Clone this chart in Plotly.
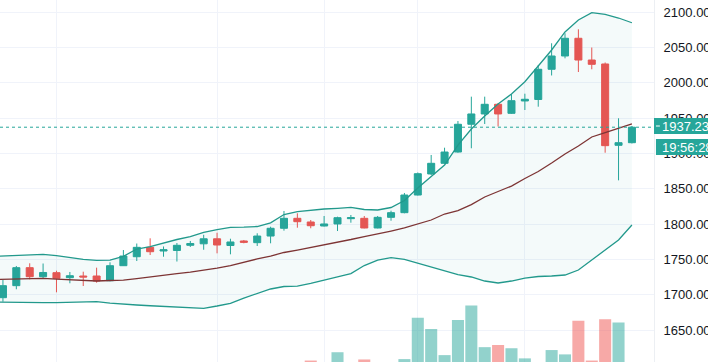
import plotly.graph_objects as go

# ---- data ----
idx = list(range(48))
open_ = [1695.8, 1712.8, 1738.3, 1725.5, 1731.2, 1724.1, 1726.5, 1726.5, 1719.8, 1741.1, 1753.8, 1767.1,
         1761.9, 1762.6, 1770.0, 1772.1, 1779.2, 1769.7, 1776.1, 1773.7, 1783.1, 1794.1, 1808.2, 1803.0,
         1797.3, 1800.2, 1807.7, 1808.2, 1794.5, 1809.6, 1816.2, 1841.2, 1871.0, 1886.1, 1902.1, 1941.4,
         1956.0, 1969.7, 1956.9, 1974.4, 1976.5, 2019.3, 2038.1, 2063.2, 2032.4, 2026.8, 1911.6, 1915.3]
high = [1720.8, 1740.7, 1744.5, 1744.2, 1734.0, 1732.2, 1732.6, 1738.3, 1745.9, 1763.3, 1772.5, 1779.9,
        1768.3, 1773.2, 1776.1, 1784.9, 1787.8, 1779.3, 1777.5, 1787.0, 1796.3, 1818.6, 1815.3, 1805.8,
        1811.5, 1810.5, 1812.9, 1811.5, 1811.5, 1819.0, 1844.1, 1873.1, 1897.9, 1908.2, 1946.0, 1980.5,
        1980.5, 1971.5, 1983.9, 1984.7, 2025.4, 2056.1, 2070.3, 2075.9, 2050.1, 2028.9, 1949.9, 1939.0]
low = [1690.1, 1707.7, 1721.8, 1723.7, 1703.4, 1716.2, 1712.3, 1717.0, 1719.0, 1740.7, 1747.7, 1756.2,
       1753.8, 1747.0, 1767.6, 1763.7, 1758.6, 1757.2, 1772.8, 1769.0, 1772.8, 1790.7, 1794.9, 1794.1,
       1796.6, 1790.2, 1802.0, 1794.0, 1794.0, 1804.8, 1815.3, 1840.5, 1869.5, 1885.1, 1901.1, 1907.4,
       1941.8, 1938.2, 1956.0, 1961.6, 1966.3, 2010.5, 2034.8, 2015.4, 2019.3, 1901.1, 1862.0, 1914.2]
close = [1712.8, 1738.3, 1725.5, 1731.5, 1723.2, 1726.9, 1725.1, 1719.4, 1741.1, 1754.8, 1767.1, 1760.9,
         1763.7, 1770.0, 1772.5, 1779.2, 1770.4, 1774.7, 1774.2, 1783.1, 1794.1, 1808.2, 1803.4, 1797.7,
         1800.2, 1809.1, 1809.1, 1794.5, 1809.6, 1816.2, 1841.2, 1871.4, 1886.1, 1902.1, 1941.4, 1956.0,
         1969.7, 1956.0, 1974.8, 1976.8, 2019.3, 2038.1, 2063.2, 2032.4, 2026.3, 1911.1, 1915.3, 1937.23]
volume = [8, 10, 7, 6, 8, 5, 6, 7, 9, 10, 9, 8, 6, 7, 5, 8, 9, 7, 5, 7, 8, 11, 9, 12.4,
          8, 14.7, 6, 12.7, 11, 10, 12.8, 24.2, 21.1, 13.9, 23.6, 27.6, 16.1, 16.7, 15.8, 13.0,
          10, 15.3, 14.1, 23.4, 12.4, 23.8, 22.9, 9]

band_idx = list(range(-1, 48))
bb_upper = [1754.1, 1754.8, 1755.8, 1756.9, 1757.2, 1755.5, 1752.4, 1750.1, 1748.7, 1749.1, 1754.4, 1764.7,
            1768.0, 1773.2, 1778.2, 1782.4, 1788.4, 1792.3, 1795.5, 1795.6, 1796.6, 1801.8, 1813.6, 1817.8,
            1820.0, 1821.4, 1822.4, 1823.8, 1820.7, 1820.0, 1823.5, 1833.4, 1851.1, 1868.1, 1883.7, 1912.0,
            1934.7, 1953.1, 1970.1, 1984.3, 2001.7, 2023.9, 2046.6, 2072.1, 2089.1, 2099.4, 2096.9, 2091.9,
            2085.2]
bb_basis = [1721.5, 1721.8, 1722.2, 1722.9, 1723.2, 1722.2, 1721.1, 1720.1, 1719.4, 1720.1, 1720.8, 1722.9,
            1725.5, 1727.9, 1730.0, 1732.1, 1734.5, 1737.8, 1741.3, 1746.3, 1750.6, 1754.8, 1759.8, 1763.3,
            1766.8, 1771.1, 1774.6, 1778.2, 1782.4, 1786.0, 1790.2, 1794.5, 1800.1, 1805.8, 1814.3, 1819.2,
            1827.7, 1838.4, 1846.2, 1853.9, 1864.6, 1874.5, 1886.5, 1899.3, 1910.6, 1923.4, 1929.4, 1936.1,
            1941.8]
bb_lower = [1689.6, 1689.2, 1688.9, 1688.8, 1688.7, 1688.9, 1689.6, 1689.9, 1690.1, 1688.2, 1686.4, 1685.4,
            1684.4, 1683.3, 1682.1, 1681.1, 1680.7, 1684.0, 1687.8, 1695.3, 1702.0, 1708.1, 1711.6, 1712.3,
            1716.1, 1720.1, 1725.1, 1730.0, 1741.3, 1749.1, 1752.4, 1750.1, 1744.9, 1739.6, 1733.6, 1728.6,
            1725.1, 1719.4, 1716.6, 1719.4, 1723.6, 1725.8, 1726.5, 1727.9, 1735.0, 1749.1, 1763.3, 1777.5,
            1798.7]

price_ticks = [1600, 1650, 1700, 1750, 1800, 1850, 1900, 1950, 2000, 2050, 2100]
grid_idx = [4, 16, 24, 31, 39]
last_price_text = "1937.23"
countdown_text = "19:56:28"

UP = "#26a69a"
DOWN = "#ef5350"
vol_colors = ["rgba(38,166,154,0.5)" if c >= o else "rgba(239,83,80,0.5)" for o, c in zip(open_, close)]

fig = go.Figure()

# Bollinger band fill + lines
fig.add_trace(go.Scatter(x=band_idx, y=bb_upper, mode="lines",
                         line=dict(color="#22998c", width=1.3), hoverinfo="skip", showlegend=False))
fig.add_trace(go.Scatter(x=band_idx, y=bb_lower, mode="lines", fill="tonexty",
                         fillcolor="rgba(38,166,154,0.05)",
                         line=dict(color="#22998c", width=1.3), hoverinfo="skip", showlegend=False))

# Volume on overlay axis
fig.add_trace(go.Bar(x=idx, y=volume, marker=dict(color=vol_colors, line=dict(width=0)),
                     width=0.9, yaxis="y2", hoverinfo="skip", showlegend=False))

fig.add_trace(go.Scatter(x=band_idx, y=bb_basis, mode="lines",
                         line=dict(color="#7d3434", width=1.3), hoverinfo="skip", showlegend=False))

fig.add_trace(go.Candlestick(
    x=idx, open=open_, high=high, low=low, close=close,
    increasing=dict(line=dict(color=UP, width=1), fillcolor=UP),
    decreasing=dict(line=dict(color=DOWN, width=1), fillcolor=DOWN),
    whiskerwidth=0, showlegend=False))

last_price = close[-1]

fig.update_layout(
    width=708, height=362,
    margin=dict(l=0, r=54, t=0, b=0),
    paper_bgcolor="white", plot_bgcolor="white",
    boxgap=0.25,
    bargap=0.1,
    showlegend=False,
    hovermode=False,
    xaxis=dict(range=[-0.22, 48.65], tickvals=grid_idx, showticklabels=False, ticks="",
               showgrid=True, gridcolor="#f0f3fa", gridwidth=1, zeroline=False,
               rangeslider=dict(visible=False), fixedrange=True),
    yaxis=dict(side="right", range=[1604.7, 2117.4], tickvals=price_ticks,
               ticktext=[f"{v:.2f}" for v in price_ticks],
               showgrid=True, gridcolor="#f0f3fa", gridwidth=1, zeroline=False,
               ticks="outside", ticklen=6, tickcolor="rgba(0,0,0,0)",
               tickfont=dict(family="Arial", size=13, color="#131722"),
               showline=True, linecolor="#eceff3", linewidth=1, automargin=False),
    yaxis2=dict(overlaying="y", range=[12, 112], visible=False, showgrid=False, zeroline=False),
)

shapes = [
    dict(type="line", xref="paper", x0=0, x1=1, yref="y", y0=last_price, y1=last_price,
         line=dict(color=UP, width=1, dash="dot")),
    dict(type="rect", xref="paper", x0=1.0, x1=1.2, yref="paper",
         y0=1 - 134 / 362, y1=1 - 118 / 362, fillcolor=UP, line=dict(width=0)),
    dict(type="rect", xref="paper", x0=1.003, x1=1.2, yref="paper",
         y0=1 - 155 / 362, y1=1 - 139 / 362, fillcolor=UP, line=dict(width=0)),
    dict(type="line", xref="paper", x0=1.003, x1=1.009, yref="paper",
         y0=1 - 126 / 362, y1=1 - 126 / 362, line=dict(color="white", width=1)),
]
fig.update_layout(shapes=shapes)

fig.add_annotation(xref="paper", x=1, xanchor="left", xshift=6, yref="paper", y=1 - 126 / 362,
                   yanchor="middle", text=last_price_text, showarrow=False,
                   font=dict(family="Arial", size=13, color="white"))
fig.add_annotation(xref="paper", x=1, xanchor="left", xshift=6, yref="paper", y=1 - 147 / 362,
                   yanchor="middle", text=countdown_text, showarrow=False,
                   font=dict(family="Arial", size=13, color="white"))

fig.write_html("out.html",
               config={"displayModeBar": False, "staticPlot": True},
               post_script="document.body.style.margin='0';document.body.style.overflow='hidden';")
